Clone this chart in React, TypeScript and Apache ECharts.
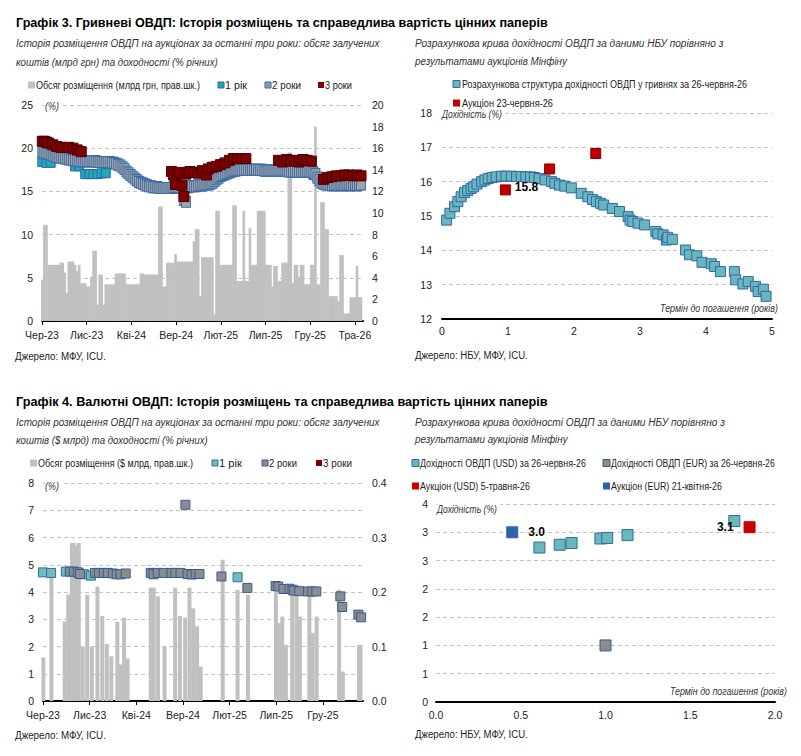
import React, { useEffect, useRef } from 'react';
import * as echarts from 'echarts';

const FONT = '"Liberation Sans", Arial, sans-serif';

// ---- tick labels ----
const monthTickLabels = ['Чер-23', 'Лис-23', 'Кві-24', 'Вер-24', 'Лют-25', 'Лип-25', 'Гру-25', 'Тра-26'];
const fxCurveYTickLabels = ['0', '1', '1', '2', '2', '3', '3', '4'];
const fxCurveXTickLabels = ['0.0', '0.5', '1.0', '1.5', '2.0'];

// ---- Chart 3 (UAH): weekly auctions starting from this date ----
const uahWeekStart = '2023-06-02';
const uahVolume = [
  3.8, 8.9, 8.9, 5.2, 5.2, 5.2, 5.2, 5.2, 5.2, 5.4,
  5.4, 4.5, 2.6, 5.5, 5.5, 5.5, 5.2, 4.6, 5.2, 3.5,
  3.5, 3.5, 3.2, 3.2, 4.1, 6.5, 6.5, 1.5, 4.3, 4.3,
  1.5, 3.4, 3.4, 3.4, 3.4, 3.4, 4.4, 4.4, 4.4, 4.4,
  4.4, 3.4, 3.4, 3.4, 3.4, 3.4, 3.4, 3.4, 4.4, 4.4,
  4.3, 4.3, 4.3, 4.3, 4.3, 4.3, 4.3, 10.6, 10.6, 3.2,
  3.2, 5.4, 5.4, 5.4, 5.4, 6.2, 5.5, 5.5, 5.5, 5.5,
  5.5, 5.5, 5.5, 5.5, 7.4, 8.5, 8.5, 2.3, 5.9, 5.9,
  5.9, 5.9, 5.9, 5.9, 0.6, 10.2, 10.2, 5.2, 5.2, 5.2,
  5.2, 5.2, 5.2, 10.7, 10.7, 3.7, 3.7, 3.7, 10.2, 3.7,
  3.7, 8.6, 5.2, 5.2, 5.2, 10.2, 10.2, 10.2, 10.2, 5.2,
  5.2, 5.2, 3.2, 5.1, 5.1, 3.7, 3.7, 5.4, 5.4, 5.4,
  15.6, 15.6, 3.5, 5.2, 5.2, 4.1, 5.2, 5.2, 3.4, 3.4,
  3.4, 5.2, 5.2, 18.0, 3.4, 3.4, 11.0, 11.0, 8.5, 8.5,
  2.3, 2.3, 2.3, 2.3, 1.8, 6.1, 6.1, 0.7, 0.7, 0.7,
  2.2, 2.2, 2.2, 5.1, 2.2, 2.2,
];
const uahYield2y = [
  19.6, 19.5, 19.4, 19.4, 19.3, 19.2, 19.1, 19.0, 19.0, 18.9,
  18.9, 18.8, 18.8, 18.7, 18.7, 18.6, 18.6, 18.6, 18.5, 18.5,
  18.5, 18.5, 18.5, 18.5, 18.5, 18.5, 18.5, 18.4, 18.4, 18.4,
  18.4, 18.4, 18.4, 18.4, 18.3, 18.3, 18.2, 18.1, 18.0, 17.8,
  17.6, 17.3, 17.1, 16.9, 16.7, 16.5, 16.3, 16.1, 16.0, 15.9,
  15.8, 15.7, 15.6, 15.6, 15.5, 15.5, 15.5, 15.4, 15.4, 15.4,
  15.4, 15.4, 15.4, 15.4, 15.5, 15.5, 15.5, 15.5, 15.4, 14.0,
  13.8, 15.5, 15.6, 15.6, 15.6, 15.6, 15.7, 15.7, 15.7, 15.8,
  15.8, 15.8, 15.9, 16.0, 16.2, 16.4, 16.6, 16.8, 16.9, 17.0,
  17.1, 17.2, 17.3, 17.4, 17.4, 17.5, 17.5, 17.5, 17.5, 17.5,
  17.5, 17.5, 17.5, 17.5, 17.5, 17.5, 17.5, 17.5, 17.4, 17.4,
  17.4, 17.4, 17.4, 17.4, 17.4, 17.4, 17.4, 17.4, 17.4, 17.4,
  17.3, 17.3, 17.3, 17.3, 17.3, 17.3, 17.3, 17.3, 17.3, 17.3,
  17.3, 17.3, 17.2, 17.0, 16.6, 16.3, 16.0, 15.9, 15.8, 15.8,
  15.8, 15.7, 15.8, 15.8, 15.7, 15.8, 15.8, 15.7, 15.8, 15.8,
  15.7, 15.8, 15.8, 15.7, 15.8, 15.8,
];
const uahYield1y: [string, number][] = [
  ['2023-06-02', 18.4], ['2023-06-16', 18.3], ['2023-06-30', 18.3],
  ['2023-09-22', 17.9], ['2023-10-06', 17.9],
  ['2023-10-27', 17.0], ['2023-11-10', 17.0], ['2023-11-24', 17.0],
  ['2023-12-08', 17.0], ['2023-12-22', 17.1], ['2024-01-05', 17.1],
  ['2025-12-12', 16.9], ['2025-12-26', 16.6],
];
const uahYield3y: [string, number][] = [
  ['2023-06-02', 20.8], ['2023-06-09', 20.8], ['2023-06-16', 20.7], ['2023-06-23', 20.6],
  ['2023-07-07', 20.4], ['2023-07-21', 20.2], ['2023-08-04', 20.1],
  ['2023-09-01', 20.1], ['2023-09-15', 20.0], ['2023-09-29', 19.8], ['2023-10-13', 19.6],
  ['2024-08-16', 17.3], ['2024-08-23', 16.9], ['2024-08-30', 15.8], ['2024-09-06', 17.0],
  ['2024-09-13', 17.2], ['2024-09-20', 15.7], ['2024-09-27', 14.4], ['2024-10-04', 17.0],
  ['2024-10-11', 17.2], ['2024-10-18', 17.3], ['2024-11-01', 17.2], ['2024-11-15', 17.1],
  ['2024-11-29', 17.4], ['2024-12-13', 16.9], ['2024-12-20', 17.6], ['2025-01-03', 17.8],
  ['2025-01-17', 17.9], ['2025-01-31', 18.1], ['2025-02-14', 18.3], ['2025-02-28', 18.6],
  ['2025-03-14', 18.8], ['2025-03-28', 18.8], ['2025-04-11', 18.8], ['2025-04-25', 18.8],
  ['2025-08-15', 18.6], ['2025-08-29', 18.4], ['2025-09-12', 18.7], ['2025-09-26', 18.5],
  ['2025-10-10', 18.6], ['2025-10-24', 18.4], ['2025-11-07', 18.7], ['2025-11-21', 18.6],
  ['2025-12-05', 18.5],
  ['2026-01-16', 16.4], ['2026-01-30', 16.6], ['2026-02-13', 16.7], ['2026-02-27', 16.8],
  ['2026-03-13', 16.8], ['2026-03-27', 16.9], ['2026-04-10', 16.9], ['2026-04-24', 16.8],
  ['2026-05-08', 16.9], ['2026-05-22', 16.8],
];

// ---- NBU UAH curve ----
const nbuCurveTerm = [
  0.07, 0.12, 0.19, 0.24, 0.29, 0.34, 0.39, 0.44, 0.48, 0.53,
  0.6, 0.65, 0.7, 0.76, 0.82, 0.9, 0.97, 1.05, 1.13, 1.2,
  1.27, 1.34, 1.4, 1.47, 1.56, 1.66, 1.71, 1.78, 1.86, 1.96,
  2.11, 2.21, 2.28, 2.34, 2.4, 2.45, 2.58, 2.69, 2.82, 2.85,
  2.89, 2.97, 3.07, 3.24, 3.27, 3.35, 3.4, 3.42, 3.49, 3.69,
  3.75, 3.86, 3.94, 4.08, 4.13, 4.22, 4.43, 4.45, 4.56, 4.64,
  4.75, 4.79, 4.87, 4.91,
];
const nbuCurveYield = [
  14.88, 15.08, 15.27, 15.42, 15.56, 15.68, 15.74, 15.8, 15.85, 15.93,
  16.0, 16.05, 16.09, 16.12, 16.14, 16.16, 16.16, 16.16, 16.15, 16.15,
  16.14, 16.14, 16.12, 16.09, 16.05, 16.0, 15.95, 15.9, 15.87, 15.82,
  15.66, 15.56, 15.48, 15.42, 15.37, 15.32, 15.22, 15.13, 14.98, 14.88,
  14.84, 14.79, 14.74, 14.55, 14.48, 14.45, 14.3, 14.38, 14.32, 14.01,
  13.87, 13.84, 13.65, 13.61, 13.53, 13.38, 13.38, 13.14, 13.02, 13.09,
  12.95, 12.8, 12.87, 12.66,
];
const uahAuctionTerm = [0.96, 1.63, 2.33];
const uahAuctionYield = [15.76, 16.37, 16.82];

// ---- Chart 4 (FX) ----
const fxVolume: [string, number][] = [
  ['2023-06-02', 0.08], ['2023-06-28', 0.23], ['2023-08-11', 0.146], ['2023-08-23', 0.195],
  ['2023-09-04', 0.29], ['2023-09-10', 0.29], ['2023-09-18', 0.285], ['2023-09-26', 0.29],
  ['2023-10-09', 0.10], ['2023-10-24', 0.195], ['2023-11-08', 0.10], ['2023-11-26', 0.21],
  ['2023-12-12', 0.156], ['2023-12-27', 0.105], ['2024-01-11', 0.082], ['2024-01-31', 0.145],
  ['2024-02-10', 0.067], ['2024-02-21', 0.153], ['2024-03-03', 0.078],
  ['2024-05-18', 0.208], ['2024-05-28', 0.208], ['2024-06-11', 0.192], ['2024-07-02', 0.10],
  ['2024-08-06', 0.208], ['2024-08-22', 0.156], ['2024-09-08', 0.153], ['2024-09-22', 0.208],
  ['2024-10-04', 0.17], ['2024-10-17', 0.137], ['2024-10-29', 0.063],
  ['2025-01-09', 0.259], ['2025-02-25', 0.204], ['2025-03-31', 0.195],
  ['2025-06-30', 0.201], ['2025-07-11', 0.143], ['2025-07-21', 0.155], ['2025-08-02', 0.103],
  ['2025-08-23', 0.20], ['2025-09-06', 0.20], ['2025-09-17', 0.155],
  ['2025-10-18', 0.20], ['2025-10-29', 0.125], ['2025-11-11', 0.155],
  ['2026-01-24', 0.204], ['2026-02-05', 0.054], ['2026-03-28', 0.103], ['2026-04-02', 0.103],
];
const fxYield1y: [string, number][] = [
  ['2023-06-01', 4.72], ['2023-06-27', 4.70], ['2023-08-15', 4.75], ['2023-09-26', 4.70],
  ['2023-10-13', 4.65], ['2023-11-05', 4.60], ['2025-02-25', 4.54],
];
const fxYield2y: [string, number][] = [
  ['2023-08-28', 4.75], ['2023-09-10', 4.75], ['2023-09-23', 4.72], ['2023-09-30', 4.66],
  ['2023-11-18', 4.70], ['2023-12-01', 4.70], ['2023-12-17', 4.70], ['2023-12-30', 4.70],
  ['2024-01-16', 4.68], ['2024-01-29', 4.65], ['2024-02-10', 4.65], ['2024-02-26', 4.68],
  ['2024-05-18', 4.70], ['2024-05-27', 4.65], ['2024-06-10', 4.70], ['2024-06-29', 4.70],
  ['2024-07-25', 4.70], ['2024-08-07', 4.70], ['2024-08-24', 4.70], ['2024-09-09', 7.20],
  ['2024-09-16', 4.66], ['2024-09-29', 4.64], ['2024-10-12', 4.66], ['2024-10-25', 4.66],
  ['2025-01-05', 4.57], ['2025-03-29', 4.15],
  ['2025-06-29', 4.22], ['2025-07-08', 4.20], ['2025-07-25', 4.11], ['2025-08-14', 4.12],
  ['2025-08-24', 4.08], ['2025-08-30', 4.05], ['2025-09-15', 4.03], ['2025-10-14', 4.02],
  ['2025-10-28', 4.02], ['2025-11-10', 4.02],
  ['2026-01-28', 3.84], ['2026-02-03', 3.45], ['2026-03-26', 3.17], ['2026-04-04', 3.07],
];
const fxYield3y: [string, number][] = [];

const usdCurveTerm = [0.61, 0.73, 0.80, 0.97, 1.01, 1.13, 1.76];
const usdCurveYield = [2.73, 2.78, 2.81, 2.89, 2.90, 2.95, 3.20];
const eurCurveTerm = [1.0];
const eurCurveYield = [1.0];
const usdAuctionTerm = [1.85];
const usdAuctionYield = [3.09];
const eurAuctionTerm = [0.45];
const eurAuctionYield = [3.0];

// ---- series names ----
const NAME_UAH_VOL = 'Обсяг розміщення (млрд грн, прав.шк.)';
const NAME_FX_VOL = 'Обсяг розміщення ($ млрд, прав.шк.)';
const NAME_NBU = 'Розрахункова структура дохідності ОВДП у гривнях за 26-червня-26';
const NAME_UAH_AUC = 'Аукціон 23-червня-26';
const NAME_USD = 'Дохідності ОВДП (USD) за 26-червня-26';
const NAME_EUR = 'Дохідності ОВДП (EUR) за 26-червня-26';
const NAME_USD_AUC = 'Аукціон (USD) 5-травня-26';
const NAME_EUR_AUC = 'Аукціон (EUR) 21-квітня-26';

// ---- colours ----
const C = {
  bar: '#c0c0c0',
  uah1: '#1fa8b8', uah1b: '#2f66a6',
  uah2: '#a3a3a3', uah2b: '#3b6cab',
  y3: '#7f0000', y3b: '#4a0000',
  fx1: '#6dbdbd', fx1b: '#3a6aa0',
  fx2: '#8c8c8c', fx2b: '#2f5f9a',
  nbu: '#6bb5bd', nbub: '#2f6aa6',
  red: '#c00000', redb: '#8a0000',
  usd: '#6ab8b8', eurAuc: '#2f62ad', usdAuc: '#cc0000',
};

// ---- helpers ----
function monthPos(d: string): number {
  const [y, m, day] = d.split('-').map(Number);
  const dim = new Date(Date.UTC(y, m, 0)).getUTCDate();
  return (y - 2023) * 12 + (m - 6) + (day - 1) / dim;
}
function weekDate(start: string, i: number): string {
  const t = new Date(start + 'T00:00:00Z').getTime() + i * 7 * 86400000;
  return new Date(t).toISOString().slice(0, 10);
}
function monthLabel(v: number): string {
  const k = Math.round(v / 5);
  return Math.abs(v - k * 5) < 1e-6 ? monthTickLabels[k] ?? '' : '';
}
const zip = (xs: number[], ys: number[]) => xs.map((x, i) => [x, ys[i]]);

let measureCtx: CanvasRenderingContext2D | null = null;
function measure(text: string, font: string): number {
  if (!measureCtx) measureCtx = document.createElement('canvas').getContext('2d');
  if (!measureCtx) return text.length * 6;
  measureCtx.font = font;
  return measureCtx.measureText(text).width;
}

const labelStyle = { color: '#222', fontSize: 10.5, fontFamily: FONT };
const gridLine = { show: true, lineStyle: { color: '#c4c4c4', type: [4, 3] as any, width: 1 } };
const blackAxis = { show: true, lineStyle: { color: '#000', width: 2 } };

function buildOption() {
  const weeklyX = uahVolume.map((_, i) => monthPos(weekDate(uahWeekStart, i)));
  const g: any[] = [];
  // text fitted to a measured width of the reference
  const addText = (x: number, y: number, text: string, font: string, width: number, fill = '#000', extra: any = {}) => {
    const w = measure(text, font);
    g.push({
      type: 'text', x, y, scaleX: width / w, silent: true, z: 10,
      style: { text, font, fill, align: 'left', verticalAlign: 'middle', ...extra },
    });
  };
  const addKey = (x: number, y: number, size: number, fill: string, stroke?: string) => {
    g.push({
      type: 'rect', silent: true, z: 10,
      shape: { x: x, y: y - size / 2, width: size, height: size },
      style: { fill, stroke: stroke || null, lineWidth: stroke ? 1 : 0 },
    });
  };

  const titleFont = `bold 12.6px ${FONT}`;
  const subFont = `italic 11.5px ${FONT}`;
  const srcFont = `11.5px ${FONT}`;
  const legFont = `11px ${FONT}`;
  const axFont = `italic 11px ${FONT}`;

  addText(16, 23, 'Графік 3. Гривневі ОВДП: Історія розміщень та справедлива вартість цінних паперів', titleFont, 532);
  addText(16, 43, 'Історія розміщення ОВДП на аукціонах за останні три роки: обсяг залучених', subFont, 364, '#333');
  addText(16, 62, 'коштів (млрд грн) та доходності (% річних)', subFont, 202, '#333');
  addText(415, 43, 'Розрахункова крива дохідності ОВДП за даними НБУ порівняно з', subFont, 309, '#333');
  addText(415, 61, 'результатами аукціонів Мінфіну', subFont, 152, '#333');
  addText(15, 356, 'Джерело: МФУ, ICU.', srcFont, 91, '#222');
  addText(415, 355, 'Джерело: НБУ, МФУ, ICU.', srcFont, 113, '#222');
  addText(16, 402, 'Графік 4. Валютні ОВДП: Історія розміщень та справедлива вартість цінних паперів', titleFont, 532);
  addText(16, 422, 'Історія розміщення ОВДП на аукціонах за останні три роки: обсяг залучених', subFont, 364, '#333');
  addText(16, 440, 'коштів ($ млрд) та доходності (% річних)', subFont, 192, '#333');
  addText(415, 422, 'Розрахункова крива дохідності ОВДП за даними НБУ порівняно з', subFont, 310, '#333');
  addText(415, 439, 'результатами аукціонів Мінфіну', subFont, 153, '#333');
  addText(15, 735, 'Джерело: МФУ, ICU.', srcFont, 91, '#222');
  addText(415, 734, 'Джерело: НБУ, МФУ, ICU.', srcFont, 113, '#222');

  // axis names (white background hides the grid line behind them)
  addText(45, 106, '(%)', axFont, 14, '#333', { backgroundColor: '#fff', padding: [0, 4, 0, 0] });
  addText(45, 486, '(%)', axFont, 14, '#333', { backgroundColor: '#fff', padding: [0, 4, 0, 0] });
  addText(442, 114, 'Дохідність (%)', axFont, 60, '#333', { backgroundColor: '#fff', padding: [0, 4, 0, 0] });
  addText(437, 509, 'Дохідність (%)', axFont, 60, '#333', { backgroundColor: '#fff', padding: [0, 4, 0, 0] });
  addText(660, 308, 'Термін до погашення (років)', axFont, 118, '#333');
  addText(670, 691, 'Термін до погашення (років)', axFont, 117, '#333');

  // legends
  addKey(28, 85, 7, C.bar); addText(36, 85, NAME_UAH_VOL, legFont, 164, '#222');
  addKey(218, 85, 6, C.uah1, C.uah1b); addText(225, 85, '1 рік', legFont, 22, '#222');
  addKey(265, 85, 6, '#8f9cb3', C.uah2b); addText(272, 85, '2 роки', legFont, 29, '#222');
  addKey(318, 85, 6, C.y3); addText(325, 85, '3 роки', legFont, 27, '#222');

  addKey(453, 84, 7, C.nbu, C.nbub); addText(462, 84, NAME_NBU, legFont, 285, '#222');
  addKey(453, 103, 7, C.red); addText(462, 103, NAME_UAH_AUC, legFont, 91, '#222');

  addKey(30, 463, 7, C.bar); addText(38, 463, NAME_FX_VOL, legFont, 155, '#222');
  addKey(212, 463, 6, C.fx1, C.fx1b); addText(219, 463, '1 рік', legFont, 23, '#222');
  addKey(262, 463, 6, C.fx2, C.fx2b); addText(269, 463, '2 роки', legFont, 28, '#222');
  addKey(316, 463, 6, C.y3); addText(323, 463, '3 роки', legFont, 29, '#222');

  addKey(412, 463, 7, C.usd, C.nbub); addText(420, 463, NAME_USD, legFont, 166, '#222');
  addKey(603, 463, 7, C.fx2, C.fx2b); addText(611, 463, NAME_EUR, legFont, 164, '#222');
  addKey(412, 486, 7, C.usdAuc); addText(420, 486, NAME_USD_AUC, legFont, 110, '#222');
  addKey(603, 486, 7, C.eurAuc); addText(611, 486, NAME_EUR_AUC, legFont, 111, '#222');

  const sq = (fill: string, border: string, size: number | number[], z = 2) => ({
    type: 'scatter', symbol: 'rect', symbolSize: size, z,
    itemStyle: { color: fill, borderColor: border, borderWidth: 1, opacity: 1 },
  });
  const valueLabel = (position: string, extra: any = {}) => ({
    position, color: '#000', fontWeight: 'bold', fontSize: 12, fontFamily: FONT,
    formatter: (p: any) => p.value[1].toFixed(1), ...extra,
  });

  return {
    animation: false,
    backgroundColor: '#fff',
    textStyle: { fontFamily: FONT },
    graphic: g,
    grid: [
      { left: 42, right: 438, top: 105, bottom: 435 },
      { left: 442, right: 29, top: 113, bottom: 437 },
      { left: 43, right: 438, top: 483, bottom: 55 },
      { left: 436, right: 26, top: 504, bottom: 54 },
    ],
    xAxis: [
      {
        gridIndex: 0, type: 'value', min: 0, max: 35.9, interval: 5,
        axisLine: blackAxis, axisTick: { show: true, length: 4, lineStyle: { color: '#000' } },
        axisLabel: { ...labelStyle, margin: 8, formatter: monthLabel, showMaxLabel: false },
        splitLine: { show: false },
      },
      {
        gridIndex: 1, type: 'value', min: 0, max: 5, interval: 1,
        axisLine: blackAxis, axisTick: { show: false },
        axisLabel: { ...labelStyle, margin: 6 }, splitLine: { show: false },
      },
      {
        gridIndex: 2, type: 'value', min: 0, max: 34.3, interval: 5,
        axisLine: blackAxis, axisTick: { show: true, length: 4, lineStyle: { color: '#000' } },
        axisLabel: { ...labelStyle, margin: 8, formatter: monthLabel, showMaxLabel: false },
        splitLine: { show: false },
      },
      {
        gridIndex: 3, type: 'value', min: 0, max: 2, interval: 0.5,
        axisLine: blackAxis, axisTick: { show: false },
        axisLabel: { ...labelStyle, margin: 7, formatter: (v: number) => fxCurveXTickLabels[Math.round(v / 0.5)] ?? '' },
        splitLine: { show: false },
      },
    ],
    yAxis: [
      {
        gridIndex: 0, type: 'value', min: 0, max: 25, interval: 5, position: 'left',
        axisLine: { show: false }, axisTick: { show: false },
        axisLabel: { ...labelStyle, margin: 9 }, splitLine: gridLine,
      },
      {
        gridIndex: 0, type: 'value', min: 0, max: 20, interval: 2, position: 'right',
        axisLine: { show: false }, axisTick: { show: false },
        axisLabel: { ...labelStyle, margin: 9 }, splitLine: { show: false },
      },
      {
        gridIndex: 1, type: 'value', min: 12, max: 18, interval: 1,
        axisLine: { show: false }, axisTick: { show: false },
        axisLabel: { ...labelStyle, margin: 10 }, splitLine: gridLine,
      },
      {
        gridIndex: 2, type: 'value', min: 0, max: 8, interval: 1, position: 'left',
        axisLine: { show: false }, axisTick: { show: false },
        axisLabel: { ...labelStyle, margin: 9 }, splitLine: gridLine,
      },
      {
        gridIndex: 2, type: 'value', min: 0, max: 0.4, interval: 0.1, position: 'right',
        axisLine: { show: false }, axisTick: { show: false },
        axisLabel: { ...labelStyle, margin: 9, formatter: (v: number) => v.toFixed(1) }, splitLine: { show: false },
      },
      {
        gridIndex: 3, type: 'value', min: 0, max: 3.5, interval: 0.5,
        axisLine: { show: false }, axisTick: { show: false },
        axisLabel: { ...labelStyle, margin: 8, formatter: (v: number) => fxCurveYTickLabels[Math.round(v / 0.5)] ?? '' },
        splitLine: gridLine,
      },
    ],
    series: [
      {
        name: NAME_UAH_VOL, type: 'bar', xAxisIndex: 0, yAxisIndex: 1,
        barWidth: 2.6, itemStyle: { color: C.bar }, z: 1,
        data: uahVolume.map((v, i) => [weeklyX[i], v]),
      },
      { ...sq(C.uah1, C.uah1b, 9), name: '1 рік', xAxisIndex: 0, yAxisIndex: 0, data: uahYield1y.map(([d, v]) => [monthPos(d), v]) },
      { ...sq(C.uah2, C.uah2b, [9, 11]), name: '2 роки', xAxisIndex: 0, yAxisIndex: 0, data: uahYield2y.map((v, i) => [weeklyX[i], v]) },
      { ...sq(C.y3, C.y3b, 10), name: '3 роки', xAxisIndex: 0, yAxisIndex: 0, data: uahYield3y.map(([d, v]) => [monthPos(d), v]) },
      { ...sq(C.nbu, C.nbub, 10), name: NAME_NBU, xAxisIndex: 1, yAxisIndex: 2, data: zip(nbuCurveTerm, nbuCurveYield) },
      {
        ...sq(C.red, C.redb, 10, 3), name: NAME_UAH_AUC, xAxisIndex: 1, yAxisIndex: 2,
        label: { show: false, ...valueLabel('right', { distance: 4, offset: [0, -3] }) },
        data: zip(uahAuctionTerm, uahAuctionYield).map((v, i) => (i === 0 ? { value: v, label: { show: true } } : v)),
      },
      {
        name: NAME_FX_VOL, type: 'bar', xAxisIndex: 2, yAxisIndex: 4,
        barWidth: 4, itemStyle: { color: C.bar }, z: 1,
        data: fxVolume.map(([d, v]) => [monthPos(d), v]),
      },
      { ...sq(C.fx1, C.fx1b, 9), name: '1 рік', xAxisIndex: 2, yAxisIndex: 3, data: fxYield1y.map(([d, v]) => [monthPos(d), v]) },
      { ...sq(C.fx2, C.fx2b, 9), name: '2 роки', xAxisIndex: 2, yAxisIndex: 3, data: fxYield2y.map(([d, v]) => [monthPos(d), v]) },
      { ...sq(C.y3, C.y3b, 9), name: '3 роки', xAxisIndex: 2, yAxisIndex: 3, data: fxYield3y.map(([d, v]) => [monthPos(d), v]) },
      { ...sq(C.usd, C.nbub, 11), name: NAME_USD, xAxisIndex: 3, yAxisIndex: 5, data: zip(usdCurveTerm, usdCurveYield) },
      { ...sq(C.fx2, C.fx2b, 11), name: NAME_EUR, xAxisIndex: 3, yAxisIndex: 5, data: zip(eurCurveTerm, eurCurveYield) },
      {
        ...sq(C.usdAuc, C.usdAuc, 11, 3), name: NAME_USD_AUC, xAxisIndex: 3, yAxisIndex: 5,
        label: { show: true, ...valueLabel('left', { distance: 10 }) },
        data: zip(usdAuctionTerm, usdAuctionYield),
      },
      {
        ...sq(C.eurAuc, C.eurAuc, 11, 3), name: NAME_EUR_AUC, xAxisIndex: 3, yAxisIndex: 5,
        label: { show: true, ...valueLabel('right', { distance: 10 }) },
        data: zip(eurAuctionTerm, eurAuctionYield),
      },
    ],
  };
}

export default function App() {
  const ref = useRef<HTMLDivElement>(null);
  useEffect(() => {
    if (!ref.current) return;
    const chart = echarts.init(ref.current, undefined, { renderer: 'svg' });
    chart.setOption(buildOption() as any);
    return () => chart.dispose();
  }, []);
  return <div ref={ref} style={{ position: 'absolute', left: 0, top: 0, width: 801, height: 756, background: '#fff' }} />;
}
